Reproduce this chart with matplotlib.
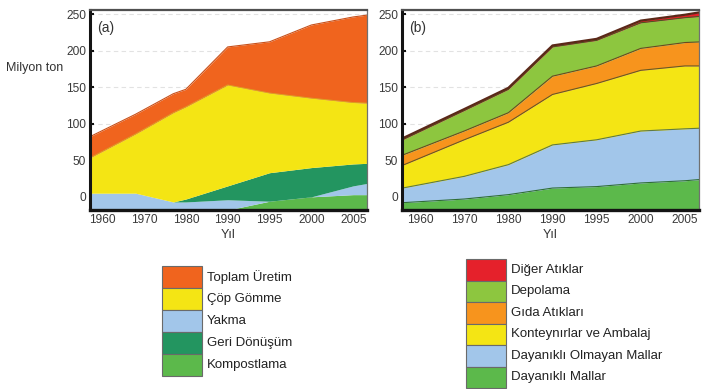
import numpy as np
import matplotlib.pyplot as plt
from matplotlib.patches import Rectangle

plt.rcParams['font.family'] = ['Liberation Sans', 'DejaVu Sans']

tick_years = [1960, 1970, 1980, 1990, 1995, 2000, 2005]
y_ticks = [0, 50, 100, 150, 200, 250]

# (a) atık yönetimi - katmanların üst sınırları (milyon ton)
years_a = [1957, 1968, 1977, 1980, 1990, 1995, 2000, 2005, 2007]
kompost_top = [-18, -18, -18, -18, -18, -6, 0, 3, 3]
yakma_top = [5, 5, -7, -7, -4, -6, 0, 15, 19]
geri_top = [5, 5, -7, -3, 15, 33, 40, 45, 46]
gomme_top = [53, 86, 115, 123, 153, 142, 135, 129, 128]
toplam_top = [82, 113, 141, 147, 205, 212, 235, 246, 249]

# (b) atık türleri
years_b = [1956, 1970, 1980, 1990, 1995, 2000, 2005, 2007]
dayanikli_top = [-8, -3, 3, 12, 14, 19, 22, 24]
olmayan_top = [12, 28, 44, 71, 78, 90, 93, 94]
konteynir_top = [43, 78, 102, 140, 155, 173, 179, 179]
gida_top = [57, 90, 115, 165, 179, 203, 211, 212]
depolama_top = [78, 118, 147, 205, 214, 238, 245, 247]
diger_top = [80, 120, 149, 207, 216, 241, 249, 253]

floor = -18

labels_a = ['Toplam Üretim', 'Çöp Gömme', 'Yakma', 'Geri Dönüşüm', 'Kompostlama']
colors_a = ['#f0641e', '#f4e514', '#a2c6ea', '#239560', '#5cb94b']

labels_b = ['Diğer Atıklar', 'Depolama', 'Gıda Atıkları', 'Konteynırlar ve Ambalaj',
            'Dayanıklı Olmayan Mallar', 'Dayanıklı Mallar']
colors_b = ['#e5212b', '#8dc63f', '#f7941d', '#f4e514', '#a2c6ea', '#5cb94b']

# 1960-1990 arası 10 yıl, 1990-2005 arası 5 yıl eşit aralıklı
knot_years = [1950] + tick_years + [2015]
knot_pos = [-1, 0, 1, 2, 3, 4, 5, 6, 8]


def to_pos(y):
    return np.interp(y, knot_years, knot_pos)


def to_year(p):
    return np.interp(p, knot_pos, knot_years)


fig = plt.figure(figsize=(7.05, 3.89), dpi=100)
ax_a = fig.add_axes([90 / 705, 1 - 210 / 389, 277 / 705, 200 / 389])
ax_b = fig.add_axes([402 / 705, 1 - 210 / 389, 297 / 705, 200 / 389])


def style_axes(ax, xlim, tag):
    ax.set_xscale('function', functions=(to_pos, to_year))
    ax.set_xlim(*xlim)
    ax.set_ylim(-18, 255.5)
    ax.set_xticks(tick_years)
    ax.set_xticklabels([str(y) for y in tick_years])
    ax.set_yticks(y_ticks)
    ax.minorticks_off()
    ax.tick_params(direction='in', length=3, width=1.5, color='#111111',
                   labelsize=8.6, labelcolor='#3a3a3a', pad=3)
    ax.yaxis.grid(True, color='#e2e2e2', ls=(0, (4, 3)), lw=0.8)
    ax.set_axisbelow(True)
    ax.spines['left'].set_linewidth(2.2)
    ax.spines['left'].set_color('#141414')
    ax.spines['bottom'].set_linewidth(2.4)
    ax.spines['bottom'].set_color('#141414')
    ax.spines['top'].set_linewidth(1.6)
    ax.spines['top'].set_color('#505050')
    ax.spines['right'].set_linewidth(0.9)
    ax.spines['right'].set_color('#707070')
    ax.set_xlabel('Yıl', fontsize=9, color='#333333', labelpad=2)
    ax.text(0.025, 0.91, tag, transform=ax.transAxes, fontsize=10,
            color='#333333', va='center')


# (a) alttan üste: Kompostlama, Yakma, Geri Dönüşüm, Çöp Gömme, Toplam Üretim
stack_a = [(kompost_top, colors_a[4]), (yakma_top, colors_a[2]),
           (geri_top, colors_a[3]), (gomme_top, colors_a[1]),
           (toplam_top, colors_a[0])]
lo = [floor] * len(years_a)
for top, col in stack_a:
    ax_a.fill_between(years_a, lo, top, color=col, lw=0)
    lo = top
ax_a.plot(years_a, toplam_top, color='#c8501a', lw=0.8)
ax_a.plot(years_a, gomme_top, color='#dba81e', lw=0.6)
style_axes(ax_a, (1957.1, 2006.65), '(a)')

# (b) alttan üste: Dayanıklı Mallar ... Diğer Atıklar
layers_b = [dayanikli_top, olmayan_top, konteynir_top, gida_top, depolama_top, diger_top]
fill_colors_b = colors_b[::-1]
lo = [floor] * len(years_b)
for top, col in zip(layers_b, fill_colors_b):
    ax_b.fill_between(years_b, lo, top, color=col, lw=0)
    lo = top
edge_colors_b = ['#2f6e35', '#5f7a45', '#6a5a20', '#6a4a20', '#4a5a20']
for top, ec in zip(layers_b[:-1], edge_colors_b):
    ax_b.plot(years_b, top, color=ec, lw=0.8)
ax_b.plot(years_b, diger_top, color='#5a2818', lw=1.6)
style_axes(ax_b, (1955.9, 2006.6), '(b)')

fig.text(35 / 705, 1 - 68 / 389, 'Milyon ton', fontsize=9, color='#333333',
         ha='center', va='center')


def draw_legend(x0, top, row_h, labels, colors):
    w, h = 705, 389
    for k, (lab, col) in enumerate(zip(labels, colors)):
        y = top + k * row_h
        fig.patches.append(Rectangle((x0 / w, 1 - (y + row_h) / h), 40 / w, row_h / h,
                                     transform=fig.transFigure, facecolor=col,
                                     edgecolor='#6a6a6a', lw=0.8))
        fig.text((x0 + 45) / w, 1 - (y + row_h / 2) / h, lab, fontsize=9.5,
                 color='#222222', va='center', ha='left')


draw_legend(162, 266, 22, labels_a, colors_a)
draw_legend(466, 259, 21.5, labels_b, colors_b)

fig.savefig('out.png', dpi=100)
